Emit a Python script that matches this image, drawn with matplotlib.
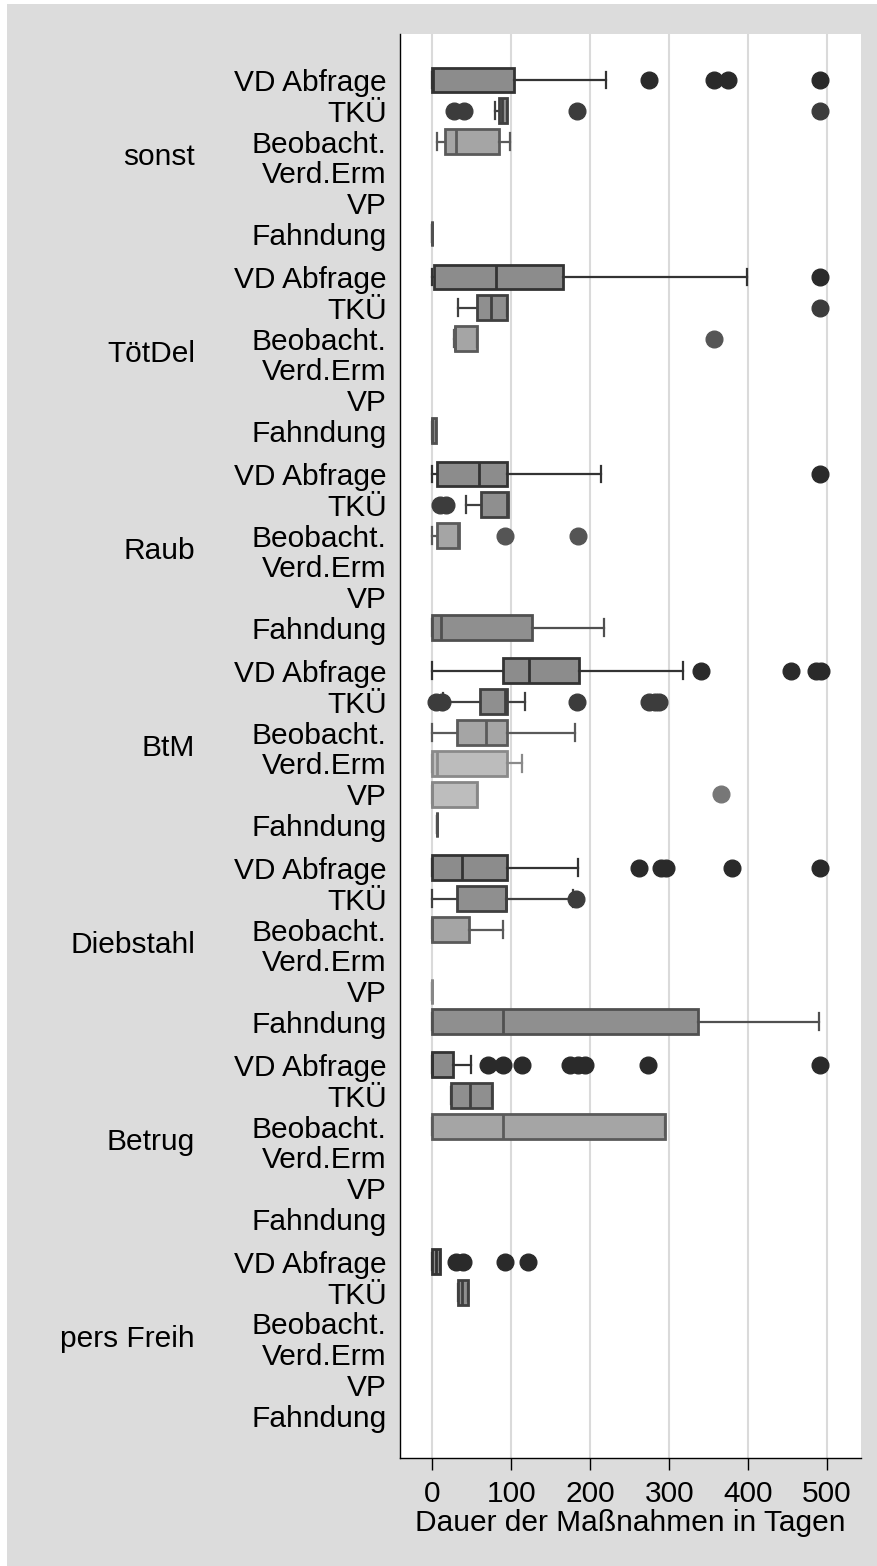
import matplotlib
matplotlib.use("Agg")
import matplotlib.pyplot as plt
import matplotlib.transforms as mtransforms
from matplotlib.patches import Rectangle

plt.rcParams["font.family"] = ["Liberation Sans", "DejaVu Sans"]

# ---------- data (days) ----------
groups   = ["sonst", "TötDel", "Raub", "BtM", "Diebstahl", "Betrug", "pers Freih"]
measures = ["VD Abfrage", "TKÜ", "Beobacht.", "Verd.Erm", "VP", "Fahndung"]

# per group: (whisker low, q1, median, q3, whisker high) ; None = no data
vd_stats = [(0, 0, 1, 103, 220), (0, 2, 80, 165, 399), (0, 6, 59, 94, 214),
            (0, 89, 122, 186, 318), (0, 0, 37, 94, 185), (0, 0, 0, 26, 49),
            (0, 0, 4, 10, 10)]
vd_fliers = [[275, 357, 374, 491], [491], [491], [340, 454, 486, 492],
             [262, 290, 296, 380, 491], [71, 90, 113, 174, 185, 193, 273, 491],
             [30, 39, 92, 121]]

tku_stats = [(79, 85, 88, 95, 95), (32, 56, 74, 94, 94), (42, 61, 94, 96, 96),
             (14, 60, 92, 94, 117), (0, 31, 93, 93, 178), (24, 24, 48, 76, 76),
             (32, 32, 38, 45, 45)]
tku_fliers = [[28, 40, 183, 491], [491], [10, 17], [4, 12, 183, 274, 282, 287],
              [182], [], []]

beo_stats = [(6, 16, 30, 84, 98), (27, 29, 29, 56, 56), (0, 6, 33, 34, 34),
             (0, 31, 68, 94, 181), (0, 0, 0, 46, 90), (0, 0, 90, 295, 295), None]
beo_fliers = [[], [357], [92, 185], [], [], [], []]

verd_stats = [None, None, None, (0, 0, 6, 94, 114), None, None, None]
verd_fliers = [[], [], [], [], [], [], []]

vp_stats = [None, None, None, (0, 0, 0, 56, 56), (0, 0, 0, 0, 0), None, None]
vp_fliers = [[], [], [], [366], [], [], []]

fahn_stats = [(0, 0, 0, 0, 0), (0, 0, 0, 4, 4), (0, 0, 11, 126, 218),
              (6, 6, 6, 6, 6), (0, 0, 90, 337, 490), None, None]
fahn_fliers = [[], [], [], [], [], [], []]

all_stats  = [vd_stats, tku_stats, beo_stats, verd_stats, vp_stats, fahn_stats]
all_fliers = [vd_fliers, tku_fliers, beo_fliers, verd_fliers, vp_fliers, fahn_fliers]

# fill, edge, flier colour per measure
fills  = ["#8c8c8c", "#8f8f8f", "#a5a5a5", "#bcbcbc", "#bdbdbd", "#8f8f8f"]
edges  = ["#333333", "#404040", "#5a5a5a", "#8a8a8a", "#878787", "#505050"]
fcols  = ["#2a2a2a", "#3c3c3c", "#555555", "#888888", "#777777", "#4a4a4a"]

GROUP_STEP = 6.4

# ---------- plot ----------
fig = plt.figure(figsize=(8.78, 15.66), dpi=100)
fig.patches.append(Rectangle((7 / 878, 0), 1, 1 - 4 / 1566, transform=fig.transFigure,
                             facecolor="#dcdcdc", edgecolor="none", zorder=-10))
W, H = 878, 1566
ax = fig.add_axes([400 / W, 1 - 1458 / H, 461 / W, (1458 - 34) / H])
ax.set_facecolor("white")

for m, (stats, fl) in enumerate(zip(all_stats, all_fliers)):
    bxp, pos = [], []
    for g, s in enumerate(stats):
        if s is None:
            continue
        lo, q1, med, q3, hi = s
        bxp.append(dict(whislo=lo, q1=q1, med=med, q3=q3, whishi=hi, fliers=fl[g]))
        pos.append(g * GROUP_STEP + m)
    ax.bxp(bxp, positions=pos, widths=0.81, capwidths=0.55, orientation="horizontal",
           patch_artist=True,
           boxprops=dict(facecolor=fills[m], edgecolor=edges[m], linewidth=2.0),
           medianprops=dict(color=edges[m], linewidth=2.0),
           whiskerprops=dict(color=edges[m], linewidth=1.6),
           capprops=dict(color=edges[m], linewidth=1.6),
           flierprops=dict(marker="o", markersize=12, markerfacecolor=fcols[m],
                           markeredgecolor=fcols[m]),
           zorder=3)

ticks = [g * GROUP_STEP + m for g in range(len(groups)) for m in range(len(measures))]
ax.set_yticks(ticks, measures * len(groups), fontsize=21.5)
ax.tick_params(axis="y", length=0, pad=9.5)
ax.set_ylim(44.77, -1.494)

ax.set_xlim(-41, 543)
ax.set_xticks([0, 100, 200, 300, 400, 500])
ax.tick_params(axis="x", labelsize=21.5, length=8.5, width=1, pad=7)
ax.set_xlabel("Dauer der Maßnahmen in Tagen", fontsize=21.5, labelpad=1)
ax.grid(axis="x", color="#dadada", linewidth=1.5, zorder=0)
ax.set_axisbelow(True)

for side in ["top", "right"]:
    ax.spines[side].set_visible(False)
for side in ["left", "bottom"]:
    ax.spines[side].set_linewidth(1.0)

trans = mtransforms.blended_transform_factory(fig.transFigure, ax.transData)
for g, name in enumerate(groups):
    ax.text(195 / W, g * GROUP_STEP + 2.5, name, transform=trans, ha="right",
            va="center", fontsize=21.5)

fig.savefig("out.png", dpi=100)
